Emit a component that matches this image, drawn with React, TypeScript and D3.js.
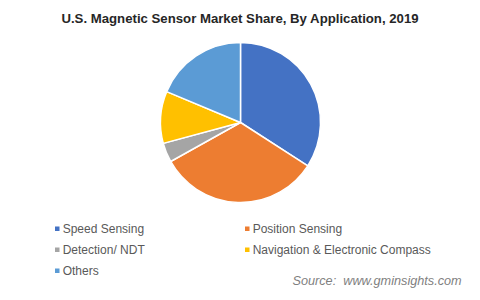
import React from "react";
import * as d3 from "d3";

const categories = [
  "Speed Sensing",
  "Position Sensing",
  "Detection/ NDT",
  "Navigation & Electronic Compass",
  "Others",
];
const shares = [34.1, 32.8, 3.9, 10.5, 18.7];
const colors = ["#4472C4", "#ED7D31", "#A5A5A5", "#FFC000", "#5B9BD5"];
const title = "U.S. Magnetic Sensor Market Share, By Application, 2019";
const source = "Source:  www.gminsights.com";

export default function App() {
  const W = 480;
  const H = 300;
  const cx = 240.5;
  const cy = 122.5;
  const r = 80;
  const data = categories.map((c, i) => ({ c, v: shares[i], color: colors[i] }));
  const pie = d3.pie<any>().value((d) => d.v).sort(null);
  const arc = d3.arc<any>().innerRadius(0).outerRadius(r);
  const arcs = pie(data);
  const font = "'Liberation Sans', Arial, sans-serif";
  const legendPos = [
    [55, 229],
    [245, 229],
    [55, 250],
    [245, 250],
    [55, 271],
  ];
  return (
    <svg
      width={W}
      height={H}
      style={{ position: "absolute", left: 0, top: 0, background: "#fff" }}
    >
      <rect width={W} height={H} fill="#fff" />
      <text
        x={240}
        y={23}
        textAnchor="middle"
        fontFamily={font}
        fontWeight="bold"
        fontSize={13.2}
        fill="#262626"
      >
        {title}
      </text>
      <g transform={`translate(${cx},${cy})`}>
        {arcs.map((a, i) => (
          <path
            key={i}
            d={arc(a) as string}
            fill={a.data.color}
            stroke="#fff"
            strokeWidth={1.5}
            strokeLinejoin="round"
          />
        ))}
      </g>
      {data.map((d, i) => (
        <g key={d.c}>
          <rect
            x={legendPos[i][0]}
            y={legendPos[i][1] - 2.5}
            width={4.5}
            height={4.5}
            fill={d.color}
          />
          <text
            x={legendPos[i][0] + 7.7}
            y={legendPos[i][1] + 4.3}
            fontFamily={font}
            fontSize={12}
            fill="#595959"
          >
            {d.c}
          </text>
        </g>
      ))}
      <text
        x={461.7}
        y={284.5}
        textAnchor="end"
        fontFamily={font}
        fontStyle="italic"
        fontSize={12.7}
        fill="#7F7F7F"
        style={{ whiteSpace: "pre" }}
      >
        {source}
      </text>
    </svg>
  );
}
